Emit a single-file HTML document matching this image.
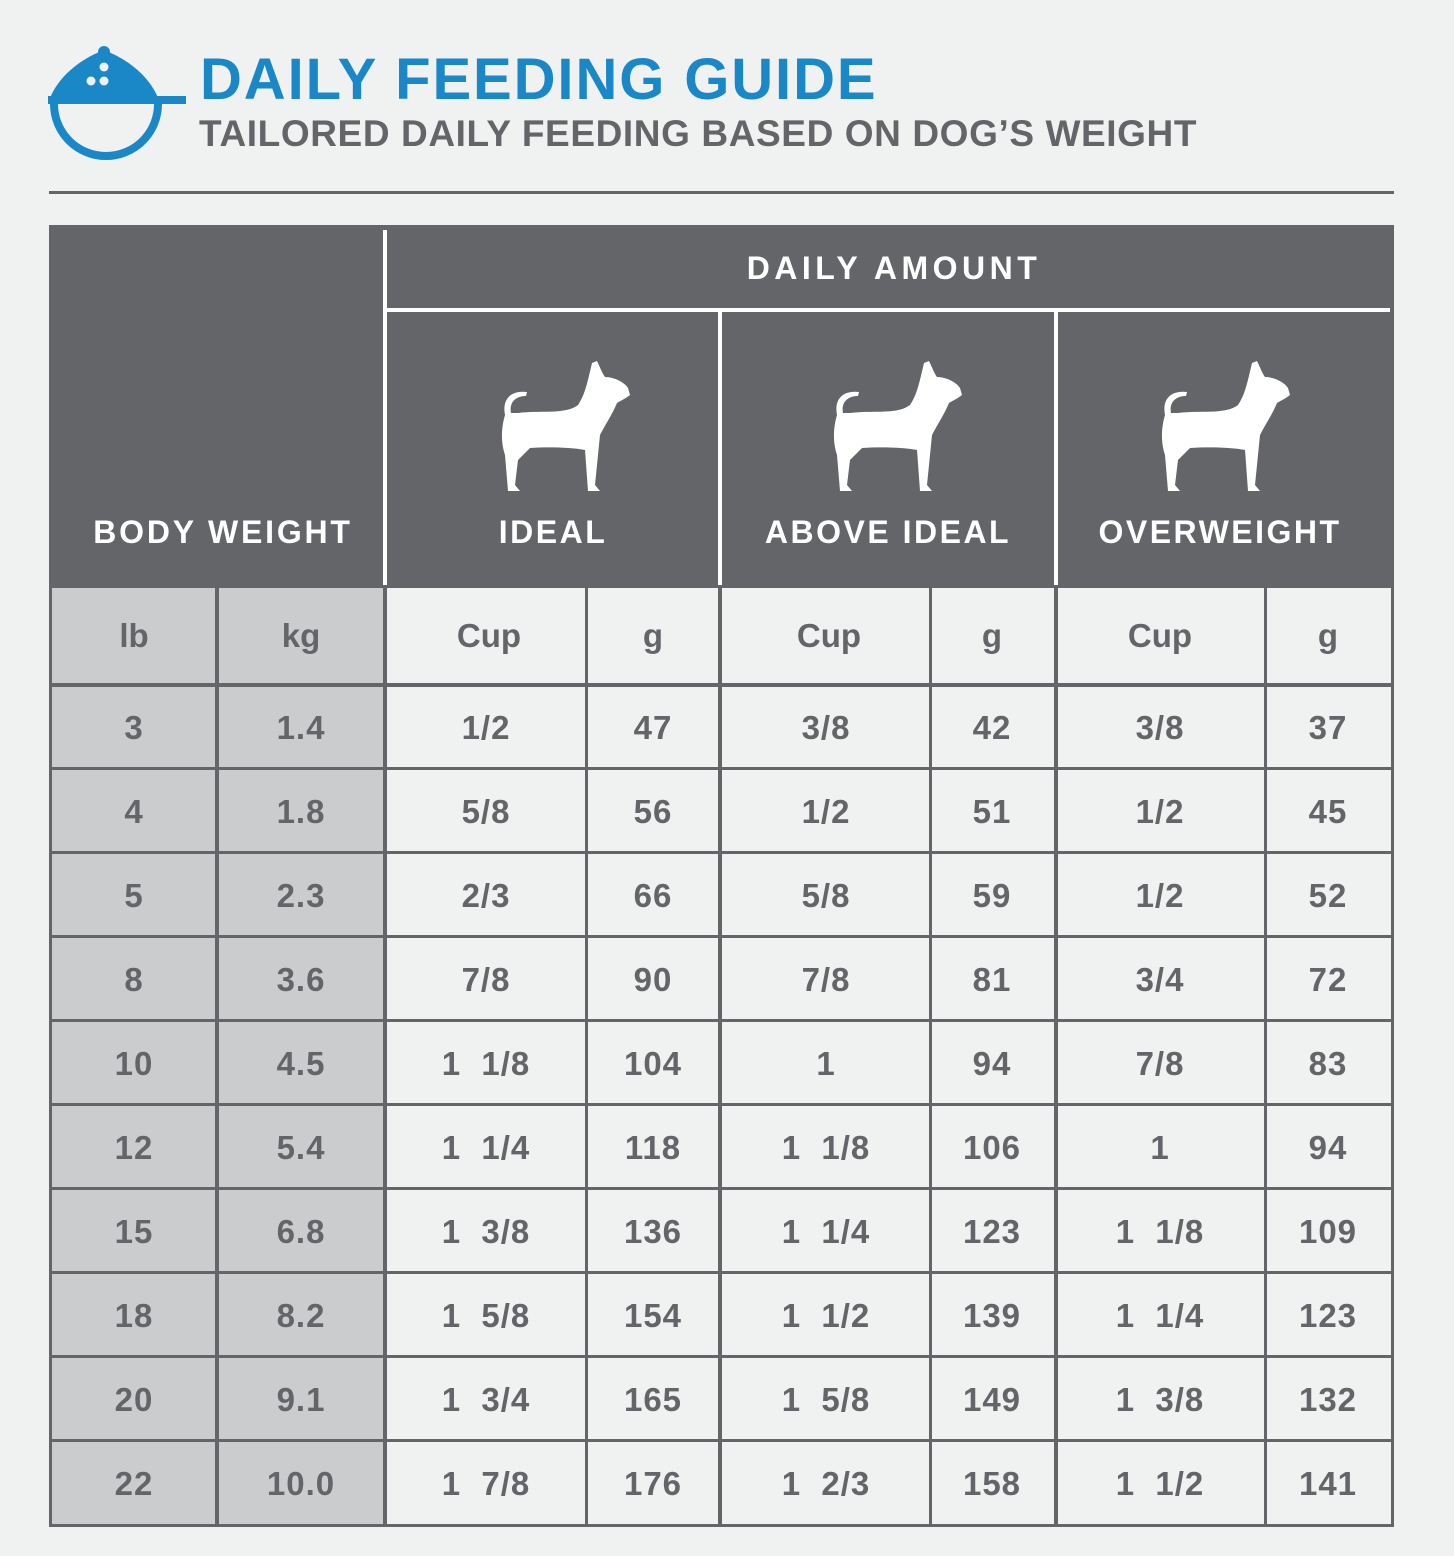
<!DOCTYPE html>
<html><head><meta charset="utf-8"><style>
html,body{margin:0;padding:0;background:#f0f1f1}
svg{display:block}
text{font-family:"Liberation Sans",sans-serif;font-weight:bold;white-space:pre}
</style></head><body>
<svg width="1454" height="1556" viewBox="0 0 1454 1556" xmlns="http://www.w3.org/2000/svg">
<defs>
<path id="dog" fill="#fff" d="M15,60 C12,45 20,35 37,37 L36,41 C25,41 19,48 21,58 L28,58 C50,55 75,60 88,50 C95,40 98,25 102,8 L107,6 C110,12 112,18 115,22 C125,22 135,28 138,33 L140,40 C135,44 130,46 127,48 C122,60 115,70 110,80 L105,130 L110,136 L98,136 L95,95 C80,92 55,92 40,93 L28,105 L25,130 L30,136 L18,136 L15,100 C10,85 12,70 15,60 Z"/>
</defs>
<rect width="1454" height="1556" fill="#f0f1f1"/>
<g fill="#1a87c7">
<path d="M50,98 C58,78 78,60 104,50 C130,60 150,78 158,98 Z"/>
<circle cx="104" cy="52" r="6"/>
<rect x="48" y="96" width="138" height="8"/>
</g>
<path d="M54,104 A52,52 0 0 0 158,104" fill="none" stroke="#1a87c7" stroke-width="8"/>
<g fill="#f0f1f1"><circle cx="104" cy="67" r="4.5"/><circle cx="91" cy="81" r="4.5"/><circle cx="104" cy="81" r="4.5"/></g>
<text x="200" y="99" font-size="58" fill="#1a87c7" letter-spacing="1.9">DAILY FEEDING GUIDE</text>
<text x="199" y="146" font-size="37" fill="#636569" letter-spacing="0.6">TAILORED DAILY FEEDING BASED ON DOG’S WEIGHT</text>
<rect x="49" y="191" width="1345" height="3" fill="#636569"/>
<rect x="49" y="225" width="1345" height="1302" fill="#636569"/>
<rect x="52" y="588" width="333" height="936" fill="#cbcccd"/>
<rect x="387" y="588" width="1004" height="936" fill="#f0f1f1"/>
<rect x="383" y="230" width="4" height="355" fill="#fff"/>
<rect x="387" y="308" width="1003" height="4" fill="#fff"/>
<rect x="718" y="312" width="4" height="273" fill="#fff"/>
<rect x="1054" y="312" width="4" height="273" fill="#fff"/>
<g fill="#636569">
<rect x="215" y="585" width="4" height="940"/>
<rect x="383" y="585" width="4" height="940"/>
<rect x="585" y="585" width="3" height="940"/>
<rect x="718" y="585" width="4" height="940"/>
<rect x="929" y="585" width="3" height="940"/>
<rect x="1054" y="585" width="4" height="940"/>
<rect x="1264" y="585" width="3" height="940"/>
<rect x="49" y="683" width="1345" height="4"/>
<rect x="49" y="767" width="1345" height="3"/>
<rect x="49" y="851" width="1345" height="3"/>
<rect x="49" y="935" width="1345" height="3"/>
<rect x="49" y="1019" width="1345" height="3"/>
<rect x="49" y="1103" width="1345" height="3"/>
<rect x="49" y="1187" width="1345" height="3"/>
<rect x="49" y="1271" width="1345" height="3"/>
<rect x="49" y="1355" width="1345" height="3"/>
<rect x="49" y="1439" width="1345" height="3"/>
</g>
<g font-size="32" fill="#fff" text-anchor="middle">
<text x="894" y="279" letter-spacing="4.5">DAILY AMOUNT</text>
<text x="223" y="543" letter-spacing="2.8">BODY WEIGHT</text>
<text x="553" y="543" letter-spacing="2.5">IDEAL</text>
<text x="888" y="543" letter-spacing="2.5">ABOVE IDEAL</text>
<text x="1220" y="543" letter-spacing="2.5">OVERWEIGHT</text>
</g>
<use href="#dog" x="490" y="355"/>
<use href="#dog" x="822" y="355"/>
<use href="#dog" x="1150" y="355"/>
<g font-size="33" fill="#636569" text-anchor="middle">
<text x="134" y="647">lb</text><text x="301" y="647">kg</text>
<text x="489" y="647">Cup</text><text x="653" y="647">g</text>
<text x="829" y="647">Cup</text><text x="992" y="647">g</text>
<text x="1160" y="647">Cup</text><text x="1328" y="647">g</text>
</g>
<g font-size="33" fill="#636569" text-anchor="middle" letter-spacing="1">
<text x="134" y="739">3</text><text x="301" y="739">1.4</text><text x="486" y="739">1/2</text><text x="653" y="739">47</text><text x="826" y="739">3/8</text><text x="992" y="739">42</text><text x="1160" y="739">3/8</text><text x="1328" y="739">37</text>
<text x="134" y="823">4</text><text x="301" y="823">1.8</text><text x="486" y="823">5/8</text><text x="653" y="823">56</text><text x="826" y="823">1/2</text><text x="992" y="823">51</text><text x="1160" y="823">1/2</text><text x="1328" y="823">45</text>
<text x="134" y="907">5</text><text x="301" y="907">2.3</text><text x="486" y="907">2/3</text><text x="653" y="907">66</text><text x="826" y="907">5/8</text><text x="992" y="907">59</text><text x="1160" y="907">1/2</text><text x="1328" y="907">52</text>
<text x="134" y="991">8</text><text x="301" y="991">3.6</text><text x="486" y="991">7/8</text><text x="653" y="991">90</text><text x="826" y="991">7/8</text><text x="992" y="991">81</text><text x="1160" y="991">3/4</text><text x="1328" y="991">72</text>
<text x="134" y="1075">10</text><text x="301" y="1075">4.5</text><text x="486" y="1075">1  1/8</text><text x="653" y="1075">104</text><text x="826" y="1075">1</text><text x="992" y="1075">94</text><text x="1160" y="1075">7/8</text><text x="1328" y="1075">83</text>
<text x="134" y="1159">12</text><text x="301" y="1159">5.4</text><text x="486" y="1159">1  1/4</text><text x="653" y="1159">118</text><text x="826" y="1159">1  1/8</text><text x="992" y="1159">106</text><text x="1160" y="1159">1</text><text x="1328" y="1159">94</text>
<text x="134" y="1243">15</text><text x="301" y="1243">6.8</text><text x="486" y="1243">1  3/8</text><text x="653" y="1243">136</text><text x="826" y="1243">1  1/4</text><text x="992" y="1243">123</text><text x="1160" y="1243">1  1/8</text><text x="1328" y="1243">109</text>
<text x="134" y="1327">18</text><text x="301" y="1327">8.2</text><text x="486" y="1327">1  5/8</text><text x="653" y="1327">154</text><text x="826" y="1327">1  1/2</text><text x="992" y="1327">139</text><text x="1160" y="1327">1  1/4</text><text x="1328" y="1327">123</text>
<text x="134" y="1411">20</text><text x="301" y="1411">9.1</text><text x="486" y="1411">1  3/4</text><text x="653" y="1411">165</text><text x="826" y="1411">1  5/8</text><text x="992" y="1411">149</text><text x="1160" y="1411">1  3/8</text><text x="1328" y="1411">132</text>
<text x="134" y="1495">22</text><text x="301" y="1495">10.0</text><text x="486" y="1495">1  7/8</text><text x="653" y="1495">176</text><text x="826" y="1495">1  2/3</text><text x="992" y="1495">158</text><text x="1160" y="1495">1  1/2</text><text x="1328" y="1495">141</text>
</g>
</svg>
</body></html>
